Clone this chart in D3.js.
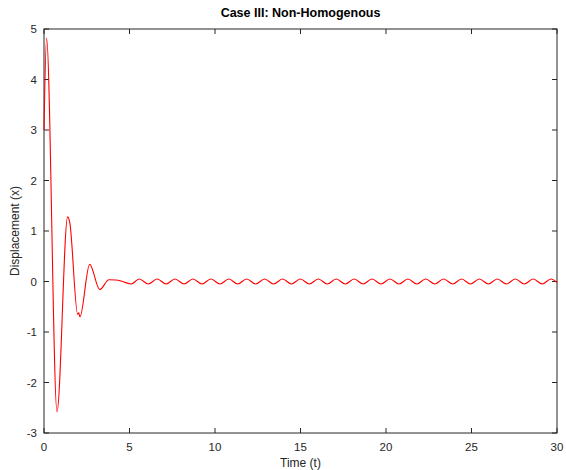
<!DOCTYPE html>
<html>
<head>
<meta charset="utf-8">
<script src="https://cdn.jsdelivr.net/npm/d3@7"></script>
<style>
  body { margin: 0; background: #fff; }
  svg { display: block; font-family: "Liberation Sans", Arial, Helvetica, sans-serif; }
</style>
</head>
<body>
<svg width="566" height="470"></svg>
<script>
// transient part (t, x)
var transientT = [0, 0.15, 0.76, 1.38, 1.5, 1.97, 2.03, 2.1, 2.67, 3.26, 3.8, 4.2, 4.6];
var transientX = [3.0, 4.82, -2.58, 1.28, 1.18, -0.65, -0.62, -0.70, 0.34, -0.16, 0.035, 0.03, 0.0];

// steady state: troughs and peaks of the small oscillation
var steadyT = [5.1, 5.57, 6.10, 6.62, 7.14, 7.66, 8.19, 8.71, 9.24, 9.76, 10.29, 10.81,
  11.33, 11.85, 12.38, 12.90, 13.43, 13.95, 14.47, 14.99, 15.52, 16.04, 16.57, 17.09,
  17.62, 18.14, 18.66, 19.18, 19.71, 20.23, 20.76, 21.28, 21.80, 22.32, 22.85, 23.37,
  23.90, 24.42, 24.94, 25.46, 25.99, 26.51, 27.04, 27.56, 28.09, 28.61, 29.13, 29.65, 30];
var steadyX = [-0.05, 0.05, -0.05, 0.05, -0.05, 0.05, -0.05, 0.05, -0.05, 0.05, -0.05, 0.05,
  -0.05, 0.05, -0.05, 0.05, -0.05, 0.05, -0.05, 0.05, -0.05, 0.05, -0.05, 0.05,
  -0.05, 0.05, -0.05, 0.05, -0.05, 0.05, -0.05, 0.05, -0.05, 0.05, -0.05, 0.05,
  -0.05, 0.05, -0.05, 0.05, -0.05, 0.05, -0.05, 0.05, -0.05, 0.05, -0.05, 0.05, -0.02];

var xTicks = [0, 5, 10, 15, 20, 25, 30];
var yTicks = [-3, -2, -1, 0, 1, 2, 3, 4, 5];

var mLeft = 44, mRight = 557, mTop = 29, mBottom = 433;
var axisColor = "#262626";

var svg = d3.select("svg");

var x = d3.scaleLinear().domain([0, 30]).range([mLeft, mRight]);
var y = d3.scaleLinear().domain([-3, 5]).range([mBottom, mTop]);

var data = transientT.map((t, i) => [t, transientX[i]])
  .concat(steadyT.map((t, i) => [t, steadyX[i]]));

// box
svg.append("rect")
  .attr("x", mLeft).attr("y", mTop)
  .attr("width", mRight - mLeft).attr("height", mBottom - mTop)
  .attr("fill", "none").attr("stroke", axisColor).attr("stroke-width", 1);

// ticks (inside, on all four sides)
var tk = 5;
var g = svg.append("g").attr("stroke", axisColor).attr("stroke-width", 1);
xTicks.forEach(function (v) {
  g.append("line").attr("x1", x(v)).attr("x2", x(v)).attr("y1", mBottom).attr("y2", mBottom - tk);
  g.append("line").attr("x1", x(v)).attr("x2", x(v)).attr("y1", mTop).attr("y2", mTop + tk);
});
yTicks.forEach(function (v) {
  g.append("line").attr("x1", mLeft).attr("x2", mLeft + tk).attr("y1", y(v)).attr("y2", y(v));
  g.append("line").attr("x1", mRight).attr("x2", mRight - tk).attr("y1", y(v)).attr("y2", y(v));
});

// tick labels
svg.append("g").selectAll("text").data(xTicks).enter().append("text")
  .attr("x", d => x(d)).attr("y", mBottom + 18)
  .attr("text-anchor", "middle").attr("font-size", 11.5).attr("fill", axisColor)
  .text(d => d);
svg.append("g").selectAll("text").data(yTicks).enter().append("text")
  .attr("x", mLeft - 7).attr("y", d => y(d) + 4)
  .attr("text-anchor", "end").attr("font-size", 11.5).attr("fill", axisColor)
  .text(d => d);

// the curve
var line = d3.line()
  .x(d => x(d[0]))
  .y(d => y(d[1]))
  .curve(d3.curveMonotoneX);

svg.append("path")
  .datum(data)
  .attr("d", line)
  .attr("fill", "none")
  .attr("stroke", "#ff0000")
  .attr("stroke-width", 1.1);

// labels
svg.append("text")
  .attr("x", (mLeft + mRight) / 2).attr("y", 17)
  .attr("text-anchor", "middle").attr("font-size", 12.5).attr("font-weight", "bold")
  .attr("fill", "#000").text("Case III: Non-Homogenous");

svg.append("text")
  .attr("x", (mLeft + mRight) / 2).attr("y", 467)
  .attr("text-anchor", "middle").attr("font-size", 12).attr("fill", axisColor)
  .text("Time (t)");

svg.append("text")
  .attr("transform", "translate(19," + ((mTop + mBottom) / 2) + ") rotate(-90)")
  .attr("text-anchor", "middle").attr("font-size", 12).attr("fill", axisColor)
  .text("Displacement (x)");
</script>
</body>
</html>
